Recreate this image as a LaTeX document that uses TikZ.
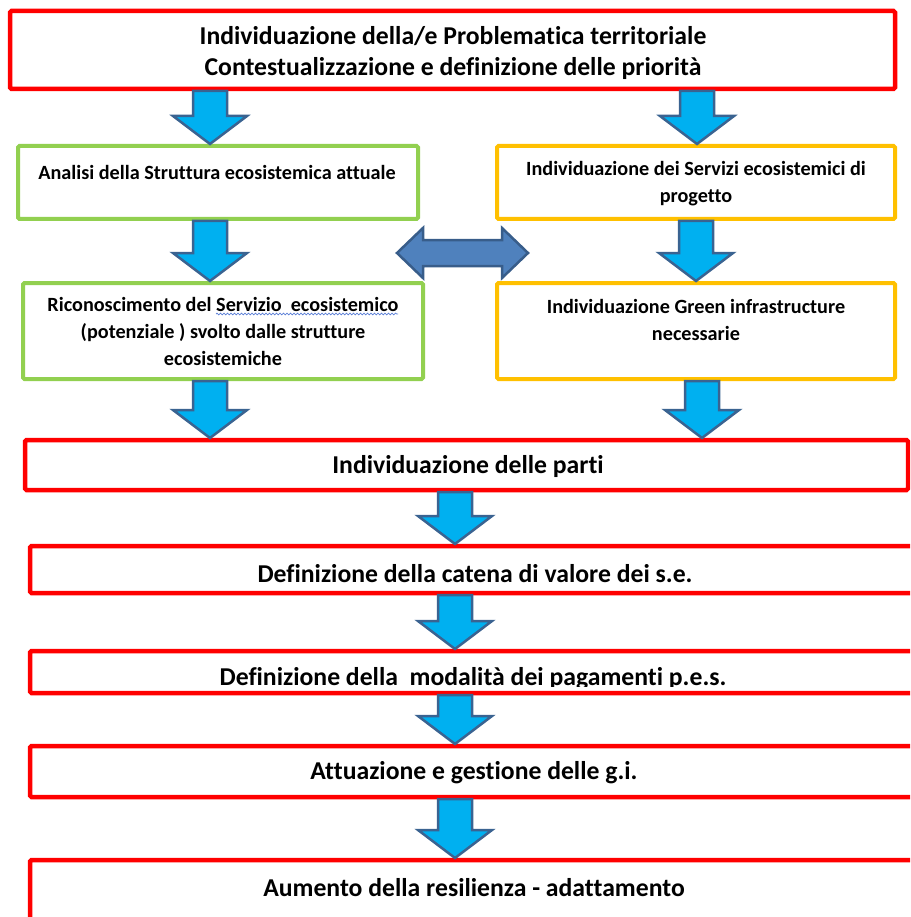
\documentclass[tikz,border=0pt]{standalone}
\usepackage{fontspec}
\setmainfont{Carlito}[Ligatures=NoCommon]
\usetikzlibrary{calc,decorations.pathmorphing}

\definecolor{boxred}{HTML}{FF0000}
\definecolor{boxgreen}{HTML}{92D050}
\definecolor{boxorange}{HTML}{FFC000}
\definecolor{arrfill}{HTML}{00B0F0}
\definecolor{arredge}{HTML}{3A6391}
\definecolor{dblfill}{HTML}{4F81BD}
\definecolor{dbledge}{HTML}{385D8A}
\definecolor{spellblue}{HTML}{5B7FD6}

% block arrow pointing down, at horizontal position #1 (pt), from node #2 to node #3
\newcommand\blockarrow[3]{%
  \draw[downarrow] let \p1=(#2.south), \p2=(#3.north) in
    ({#1pt-17pt},{\y1-2pt}) -- ({#1pt+17pt},{\y1-2pt}) -- ({#1pt+17pt},{\y2+30pt})
    -- ({#1pt+37pt},{\y2+30pt}) -- ({#1pt},{\y2+2pt}) -- ({#1pt-37pt},{\y2+30pt})
    -- ({#1pt-17pt},{\y2+30pt}) -- cycle;}

\begin{document}
\begin{tikzpicture}[x=1pt,y=-1pt,
  frame/.style={anchor=north west, inner sep=0pt, outer sep=0pt, rounded corners=1.5pt},
  redbox/.style={frame, draw=boxred, line width=4.5pt},
  greenbox/.style={frame, draw=boxgreen, line width=4pt},
  orangebox/.style={frame, draw=boxorange, line width=4pt},
  bigtext/.style={font=\fontsize{25.7}{31}\selectfont\bfseries, align=center, inner sep=0pt},
  smalltext/.style={font=\fontsize{20.2}{27}\selectfont\bfseries, align=center, inner sep=0pt},
  downarrow/.style={fill=arrfill, draw=arredge, line width=2.5pt, line join=miter},
  dblarrow/.style={fill=dblfill, draw=dbledge, line width=2.5pt, line join=miter},
]
\useasboundingbox (0,0) rectangle (910,917);
\clip (0,0) rectangle (910,917);

% frames
\node[redbox, minimum width=885pt, minimum height=78pt] (top) at (10,11) {};
\node[greenbox, minimum width=400pt, minimum height=73pt] (g1) at (18,146) {};
\node[orangebox, minimum width=398pt, minimum height=73pt] (o1) at (497,146) {};
\node[greenbox, minimum width=400pt, minimum height=96pt] (g2) at (23,283) {};
\node[orangebox, minimum width=398pt, minimum height=96pt] (o2) at (497,283) {};
\node[redbox, minimum width=883pt, minimum height=50pt] (parti) at (25,440) {};
\node[redbox, minimum width=890pt, minimum height=47pt] (catena) at (30,546) {};
\node[redbox, minimum width=890pt, minimum height=42pt] (pagam) at (30,651) {};
\node[redbox, minimum width=890pt, minimum height=51pt] (attua) at (30,746) {};
\node[redbox, minimum width=890pt, minimum height=65pt] (resil) at (30,860) {};

% texts
\node[bigtext] (ttop) at (453,53) {Individuazione della/e Problematica territoriale\\Contestualizzazione e definizione delle priorità};
\node[smalltext] (tg1) at (217,172) {Analisi della Struttura ecosistemica attuale};
\node[smalltext] (to1) at (696,184) {Individuazione dei Servizi ecosistemici di\\progetto};
\node[smalltext] (tg2) at (223,331) {Riconoscimento del Servizio\ \ ecosistemico\\(potenziale ) svolto dalle strutture\\ecosistemiche};
\node[smalltext] (to2) at (696,320) {Individuazione Green infrastructure\\necessarie};
\node[bigtext] (tparti) at (468,466) {Individuazione delle parti};
\node[bigtext] (tcatena) at (475,574) {Definizione della catena di valore dei s.e.};
\begin{scope}
  \clip (30,651) rectangle (920,686);
  \node[bigtext] (tpagam) at (473,679) {Definizione della\ \ modalità dei pagamenti p.e.s.};
\end{scope}
\node[bigtext] (tattua) at (474,773) {Attuazione e gestione delle g.i.};
\node[bigtext] (tresil) at (474,888) {Aumento della resilienza - adattamento};

% spelling underline
\draw[spellblue, line width=0.7pt, decorate, decoration={snake, segment length=3.5pt, amplitude=0.9pt}]
  (216,314) -- (398,314);

% arrows
\blockarrow{210}{top}{g1}
\blockarrow{697}{top}{o1}
\blockarrow{210}{g1}{g2}
\blockarrow{696}{o1}{o2}
\blockarrow{210}{g2}{parti}
\blockarrow{702}{o2}{parti}
\blockarrow{455}{parti}{catena}
\blockarrow{455}{catena}{pagam}
\blockarrow{455}{pagam}{attua}
\blockarrow{455}{attua}{resil}

% two-way arrow between the columns
\coordinate (dblL) at (397,253);
\coordinate (dblR) at (528,253);
\draw[dblarrow] (dblL) -- ++(26,-25) -- ++(0,12) -- ($(dblR)+(-26,-13)$) -- ++(0,-12)
  -- (dblR) -- ++(-26,25) -- ++(0,-12) -- ($(dblL)+(26,13)$) -- ++(0,12) -- cycle;
\end{tikzpicture}
\end{document}
